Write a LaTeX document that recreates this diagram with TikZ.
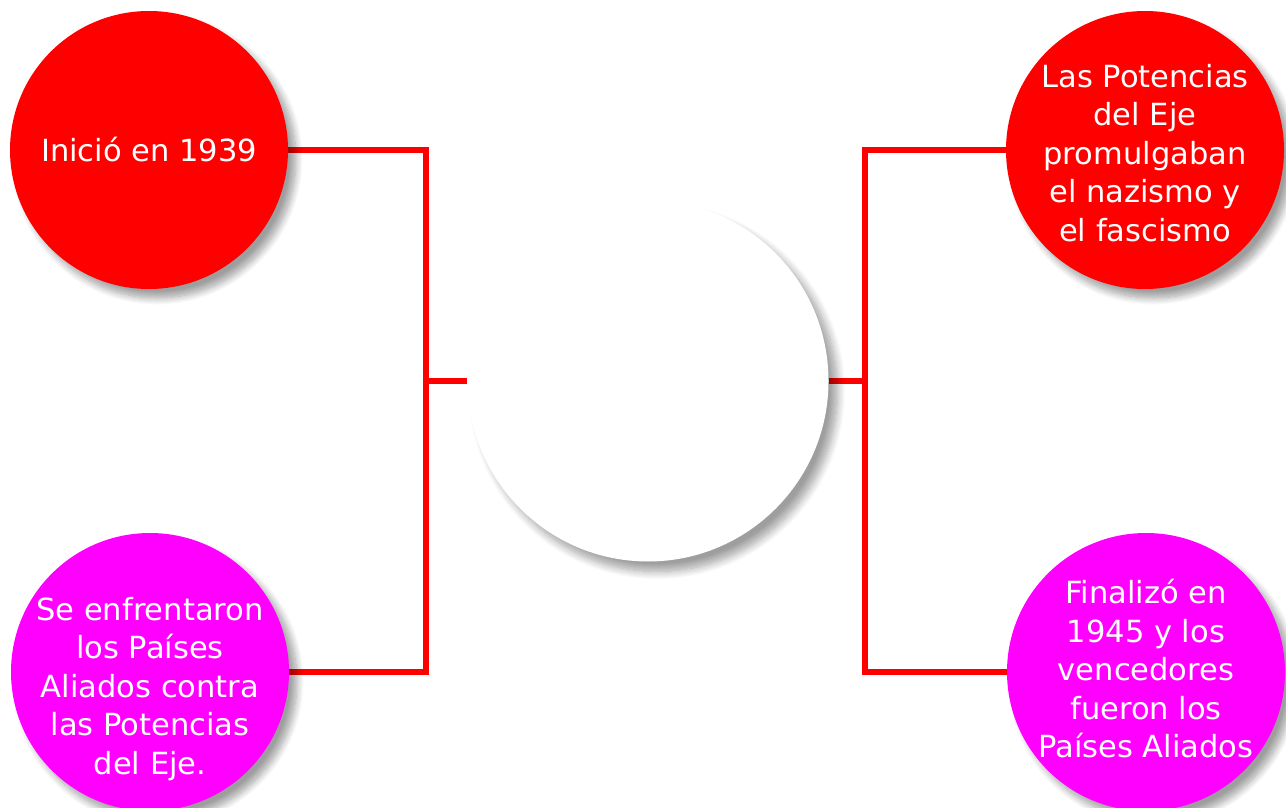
\documentclass[tikz,border=0pt]{standalone}
\usepackage{fontspec}
\setmainfont{DejaVu Sans}
\usepackage{tikz}
\usetikzlibrary{shadows.blur,backgrounds}
\definecolor{linkred}{HTML}{FF0000}
\definecolor{allied}{HTML}{FF00FF}

\begin{document}
\begin{tikzpicture}[x=1pt,y=-1pt,
    font=\fontsize{30.5}{38.5}\selectfont,
    bubble/.style={circle,inner sep=0pt,minimum size=278pt,fill=#1,
      text=white,align=center,
      blur shadow={shadow xshift=8pt,shadow yshift=-9pt,
        shadow blur radius=7pt,shadow blur steps=12,shadow opacity=38}},
    hub/.style={circle,inner sep=0pt,minimum size=361pt,fill=white,
      blur shadow={shadow xshift=9pt,shadow yshift=-10pt,
        shadow blur radius=8pt,shadow blur steps=12,shadow opacity=38}},
    link/.style={draw=linkred,line width=5.5pt},
    caption/.style={text=white,align=center,inner sep=0pt}]
  \useasboundingbox (0,0) rectangle (1286,808);

  \node[hub] (centro) at (648,381) {};

  \node[bubble=linkred] (inicio) at (149,150) {Inició en 1939};
  \node[bubble=allied] (aliados) at (150,672) {};
  \node[caption] (aliadostxt) at ([yshift=-17pt]aliados.center)
    {Se enfrentaron\\los Países\\Aliados contra\\las Potencias\\del Eje.};
  \node[bubble=linkred] (eje) at (1145,150) {};
  \node[caption] (ejetxt) at ([yshift=-3pt]eje.center)
    {Las Potencias\\del Eje\\promulgaban\\el nazismo y\\el fascismo};
  \node[bubble=allied] (fin) at (1146,672) {};
  \node[caption] (fintxt) at ([yshift=3pt]fin.center)
    {Finalizó en\\1945 y los\\vencedores\\fueron los\\Países Aliados};

  % spines
  \coordinate (lspine) at (426,381);
  \coordinate (rspine) at (865,381);

  % connectors under the shadows
  \begin{scope}[on background layer]
    \draw[link] (inicio.east) -| (lspine) |- (aliados.east);
    \draw[link] (lspine) -- (centro.west);
    \draw[link] (eje.west) -| (rspine) |- (fin.west);
    \draw[link] (rspine) -- (centro.east);
  \end{scope}
\end{tikzpicture}
\end{document}
